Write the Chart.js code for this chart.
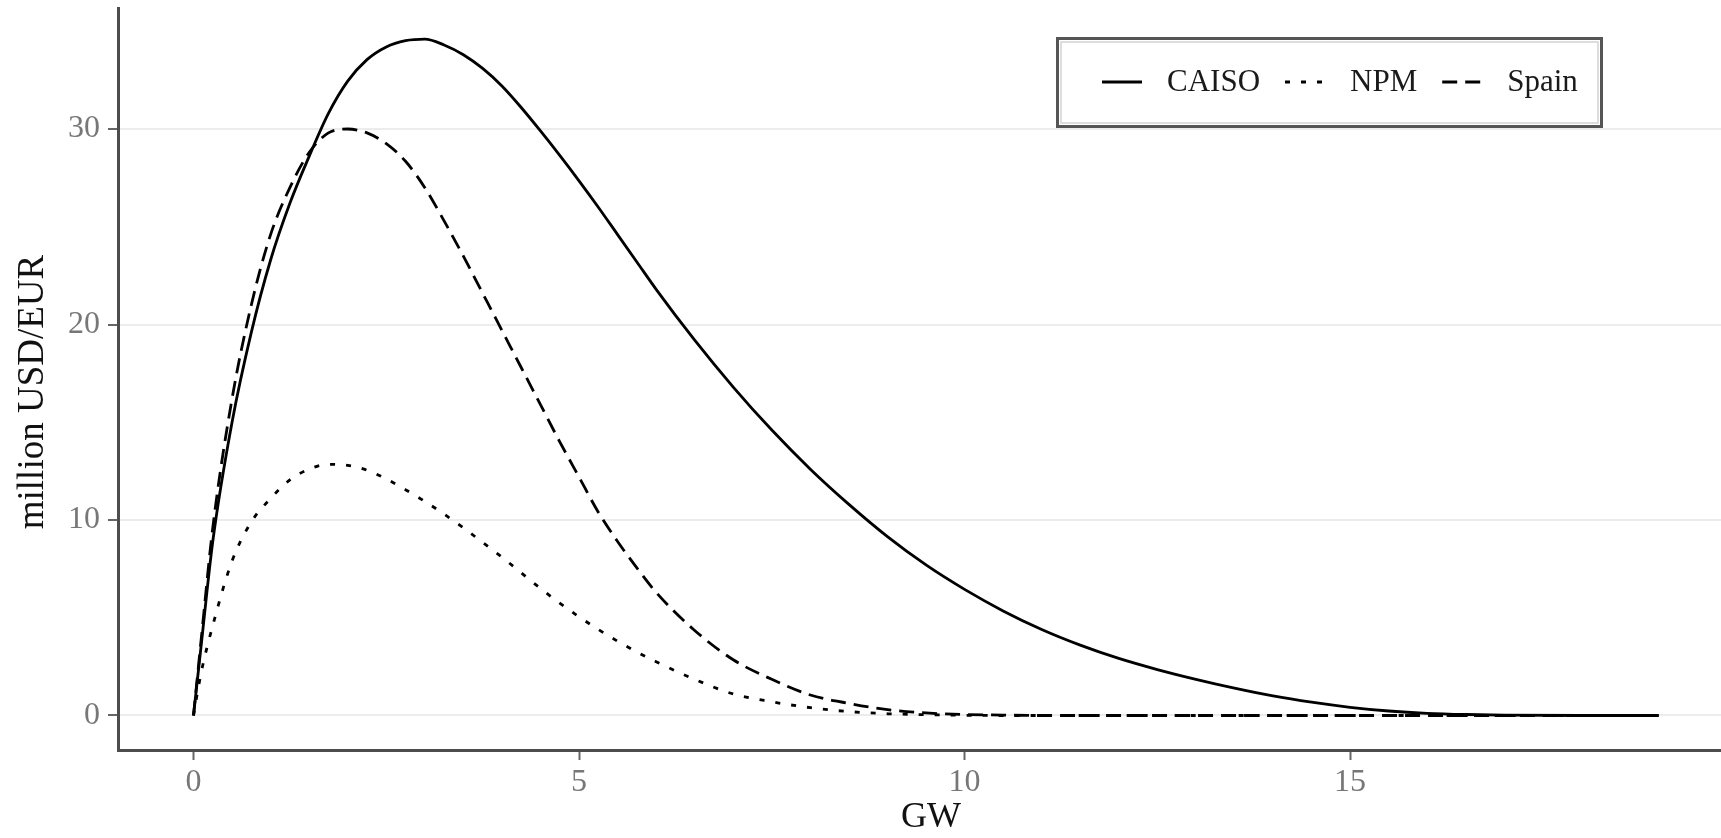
<!DOCTYPE html>
<html>
<head>
<meta charset="utf-8">
<script src="https://cdn.jsdelivr.net/npm/chart.js@4.4.1/dist/chart.umd.min.js"></script>
<style>
    html, body { margin: 0; padding: 0; background: #ffffff; }
    #wrap { width: 1721px; height: 838px; }
</style>
</head>
<body>
<div id="wrap"><canvas id="ChCurvas" width="1721" height="838"></canvas></div>
<script>
// GW (x) and million USD/EUR (y)
const gw = [0, 0.1, 0.25, 0.5, 0.75, 1, 1.25, 1.5, 1.75, 2, 2.25, 2.5, 2.75, 3, 3.25, 3.5, 3.75, 4, 4.25, 4.5,
    4.75, 5, 5.25, 5.5, 5.75, 6, 6.5, 7, 7.5, 8, 8.5, 9, 9.5, 10, 10.5, 11, 11.5, 12, 12.5, 13,
    13.5, 14, 14.5, 15, 15.5, 16, 16.5, 17, 18, 19];
const caiso = [0, 3.6, 8.9, 15.0, 19.6, 23.3, 26.2, 28.6, 30.8, 32.45, 33.55, 34.2, 34.52, 34.6, 34.3, 33.8, 33.1, 32.2, 31.1, 29.9,
    28.65, 27.35, 26.0, 24.6, 23.2, 21.8, 19.2, 16.8, 14.6, 12.6, 10.8, 9.15, 7.7, 6.45, 5.35, 4.4, 3.6, 2.92, 2.35, 1.85,
    1.4, 1.0, 0.68, 0.42, 0.23, 0.11, 0.05, 0.02, 0, 0];
const npm = [0, 2.2, 4.6, 7.9, 9.9, 11.1, 12.05, 12.6, 12.85, 12.8, 12.55, 12.1, 11.55, 10.95, 10.3, 9.6, 8.85, 8.1, 7.3, 6.5,
    5.75, 5.05, 4.4, 3.8, 3.25, 2.75, 1.85, 1.1, 0.7, 0.4, 0.2, 0.09, 0.04, 0.01, 0, 0, 0, 0, 0, 0,
    0, 0, 0, 0, 0, 0, 0, 0, 0, 0];
const spain = [0, 3.9, 9.6, 16.2, 21.0, 24.6, 27.0, 28.8, 29.8, 30.0, 29.8, 29.25, 28.35, 27.0, 25.3, 23.5, 21.6, 19.7, 17.8, 15.9,
    14.0, 12.2, 10.4, 8.9, 7.55, 6.3, 4.35, 2.85, 1.85, 1.05, 0.62, 0.3, 0.13, 0.05, 0.02, 0, 0, 0, 0, 0,
    0, 0, 0, 0, 0, 0, 0, 0, 0, 0];

const xTicks = [0, 5, 10, 15];
const yTicks = [0, 10, 20, 30];
const xTitle = 'GW';
const yTitle = 'million USD/EUR';

const SERIF = "'Liberation Serif', 'DejaVu Serif', 'Times New Roman', serif";
Chart.defaults.font.family = SERIF;

const toPoints = (ys) => gw.map((x, i) => ({ x: x, y: ys[i] }));

// axis titles and the boxed legend inside the panel
const Decor = {
    id: 'decor',
    afterDraw(chart) {
        const ctx = chart.ctx;
        ctx.save();

        ctx.fillStyle = '#111111';
        ctx.textAlign = 'center';
        ctx.textBaseline = 'middle';
        ctx.font = '36px ' + SERIF;
        ctx.fillText(xTitle, 931, 818);

        ctx.save();
        ctx.translate(33, 392);
        ctx.rotate(-Math.PI / 2);
        ctx.font = '37px ' + SERIF;
        ctx.fillText(yTitle, 0, 0);
        ctx.restore();

        ctx.strokeStyle = '#555555';
        ctx.lineWidth = 3;
        ctx.strokeRect(1057.5, 38.5, 544, 88);
        ctx.strokeStyle = '#dddddd';
        ctx.lineWidth = 2;
        ctx.strokeRect(1061, 42, 537, 81);

        ctx.font = '31px ' + SERIF;
        ctx.textAlign = 'left';
        const yMid = 82;
        let x = 1102;
        chart.data.datasets.forEach((ds) => {
            ctx.beginPath();
            ctx.setLineDash(ds.borderDash || []);
            ctx.strokeStyle = ds.borderColor;
            ctx.lineWidth = ds.borderWidth;
            ctx.moveTo(x, yMid);
            ctx.lineTo(x + 40, yMid);
            ctx.stroke();
            ctx.setLineDash([]);
            ctx.fillStyle = '#1a1a1a';
            ctx.fillText(ds.label, x + 65, yMid + 1);
            x += 65 + ctx.measureText(ds.label).width + 25;
        });
        ctx.restore();
    }
};

const ctx = document.getElementById('ChCurvas');
const ChCurvas = new Chart(ctx, {
    type: 'line',
    data: {
        datasets: [
            {
                label: 'CAISO',
                data: toPoints(caiso),
                borderColor: '#000000',
                borderWidth: 2.8,
                borderDash: [],
                pointRadius: 0,
                cubicInterpolationMode: 'monotone'
            },
            {
                label: 'NPM',
                data: toPoints(npm),
                borderColor: '#000000',
                borderWidth: 2.8,
                borderDash: [5, 11],
                pointRadius: 0,
                cubicInterpolationMode: 'monotone'
            },
            {
                label: 'Spain',
                data: toPoints(spain),
                borderColor: '#000000',
                borderWidth: 2.8,
                borderDash: [15, 8],
                pointRadius: 0,
                cubicInterpolationMode: 'monotone'
            }
        ]
    },
    options: {
        responsive: false,
        animation: false,
        devicePixelRatio: 1,
        layout: { padding: { top: 8, left: 0, right: 0, bottom: 0 } },
        plugins: {
            legend: { display: false },
            tooltip: { enabled: false }
        },
        scales: {
            x: {
                type: 'linear',
                min: -0.979,
                max: 19.81,
                afterFit: (s) => { s.height = 88; s.paddingLeft = 0; s.paddingRight = 0; },
                afterBuildTicks: (s) => { s.ticks = xTicks.map(v => ({ value: v })); },
                grid: { drawOnChartArea: false, tickColor: '#666666', tickLength: 10, tickWidth: 2 },
                border: { color: '#4d4d4d', width: 3 },
                ticks: { color: '#777777', font: { size: 32 }, padding: 3, maxRotation: 0 }
            },
            y: {
                type: 'linear',
                min: -1.765,
                max: 36.19,
                afterFit: (s) => { s.width = 118; s.paddingTop = 0; s.paddingBottom = 0; },
                afterBuildTicks: (s) => { s.ticks = yTicks.map(v => ({ value: v })); },
                grid: { color: '#ececec', lineWidth: 2, tickColor: '#666666', tickLength: 10, tickWidth: 2 },
                border: { color: '#4d4d4d', width: 3 },
                ticks: { color: '#777777', font: { size: 32 }, padding: 8 }
            }
        }
    },
    plugins: [Decor]
});
</script>
</body>
</html>
